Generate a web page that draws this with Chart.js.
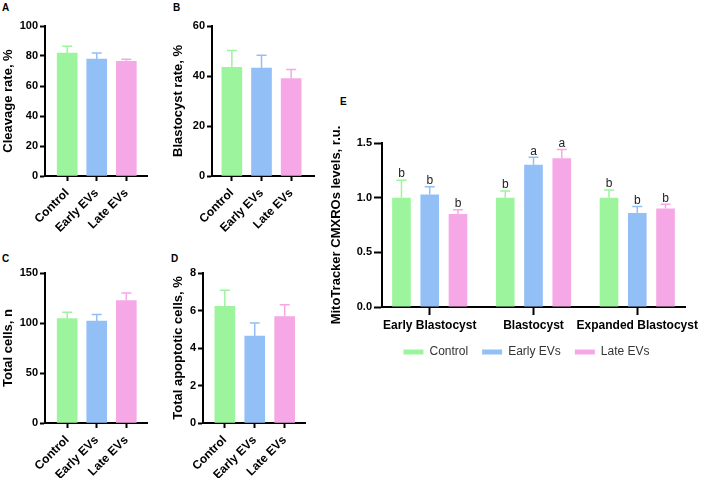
<!DOCTYPE html>
<html>
<head>
<meta charset="utf-8">
<script src="https://cdn.jsdelivr.net/npm/chart.js@4.4.1/dist/chart.umd.min.js"></script>
<style>
    body { margin: 0; background: #fff; width: 702px; height: 478px; position: relative; overflow: hidden; }
    canvas { position: absolute; }
    .lab { position: absolute; font: bold 10px/10px "Liberation Sans", Arial, sans-serif; color: #000; }
</style>
</head>
<body>
<div class="lab" style="left:2px;top:3px">A</div>
<div class="lab" style="left:173px;top:3px">B</div>
<div class="lab" style="left:2px;top:254px">C</div>
<div class="lab" style="left:171px;top:254px">D</div>
<div class="lab" style="left:340px;top:97px">E</div>

<canvas id="chartA" width="170" height="235" style="left:0;top:0"></canvas>
<canvas id="chartB" width="165" height="235" style="left:170px;top:0"></canvas>
<canvas id="chartC" width="170" height="243" style="left:0;top:235px"></canvas>
<canvas id="chartD" width="165" height="243" style="left:170px;top:235px"></canvas>
<canvas id="chartE" width="374" height="300" style="left:328px;top:90px"></canvas>

<script>
const FONT = '"Liberation Sans", Arial, sans-serif';

const groups = ['Control', 'Early EVs', 'Late EVs'];
const colors = ['#9cf59c', '#93bff7', '#f5a8e5'];

const cleavage = [82, 78, 76.5];
const cleavageSd = [4.5, 4, 1.3];
const blastocyst = [43.5, 43.2, 39];
const blastocystSd = [6.7, 5.1, 3.6];
const totalCells = [104.5, 102, 122.5];
const totalCellsSd = [6.2, 6.4, 7.5];
const apoptotic = [6.22, 4.64, 5.67];
const apoptoticSd = [0.86, 0.69, 0.64];

const stages = ['Early Blastocyst', 'Blastocyst', 'Expanded Blastocyst'];
const mitoControl = [1.0, 1.0, 1.0];
const mitoControlSd = [0.16, 0.06, 0.07];
const mitoEarly = [1.03, 1.30, 0.86];
const mitoEarlySd = [0.07, 0.07, 0.06];
const mitoLate = [0.85, 1.36, 0.90];
const mitoLateSd = [0.04, 0.08, 0.04];
const lettersControl = ['b', 'b', 'b'];
const lettersEarly = ['b', 'a', 'b'];
const lettersLate = ['b', 'a', 'b'];

// mean + SD caps, drawn upward only, plus the significance letters
const errorBars = {
    id: 'errorBars',
    afterDatasetsDraw(chart) {
        const ctx = chart.ctx;
        const y = chart.scales.y;
        chart.data.datasets.forEach((ds, di) => {
            chart.getDatasetMeta(di).data.forEach((bar, i) => {
                const top = y.getPixelForValue(ds.data[i].y + ds.sd[i]);
                const col = Array.isArray(ds.backgroundColor) ? ds.backgroundColor[i] : ds.backgroundColor;
                ctx.save();
                ctx.strokeStyle = col;
                ctx.lineWidth = 1.5;
                ctx.beginPath();
                ctx.moveTo(bar.x, bar.y);
                ctx.lineTo(bar.x, top);
                ctx.moveTo(bar.x - 5, top);
                ctx.lineTo(bar.x + 5, top);
                ctx.stroke();
                if (ds.letters) {
                    ctx.fillStyle = '#222';
                    ctx.font = '12px ' + FONT;
                    ctx.textAlign = 'center';
                    ctx.fillText(ds.letters[i], bar.x, top - 6);
                }
                ctx.restore();
            });
        });
    }
};

const legendShift = {
    id: 'legendShift',
    afterLayout(chart, args, opts) {
        if (chart.legend && opts.dx) {
            chart.legend.left += opts.dx;
            chart.legend.right += opts.dx;
        }
    }
};

function yAxis(max, step, title, width, tickLen, fmt) {
    return {
        min: 0, max: max, z: 1,
        border: { color: '#000', width: 2 },
        grid: { drawOnChartArea: false, tickLength: tickLen, tickColor: '#000', tickWidth: 2 },
        ticks: { stepSize: step, padding: 2, color: '#000', font: { family: FONT, size: 11, weight: 'bold' }, callback: fmt },
        title: { display: true, text: title, color: '#000', font: { family: FONT, size: 13, weight: 'bold' }, padding: { top: 0.5, bottom: 0 } },
        afterFit(s) { s.width = width; s.paddingTop = 0; s.paddingBottom = 0; }
    };
}

function xAxis(labels, min, max, height, rot, tickLen, pad) {
    return {
        type: 'linear', min: min, max: max, bounds: 'data', offset: false, z: 1,
        border: { color: '#000', width: 2 },
        grid: { offset: false, drawOnChartArea: false, tickLength: tickLen, tickColor: '#000', tickWidth: 2 },
        ticks: {
            autoSkip: false, minRotation: rot, maxRotation: rot, padding: pad, color: '#000',
            font: { family: FONT, size: 12, weight: 'bold' },
            callback: (v, i) => labels[i]
        },
        afterBuildTicks(s) { s.ticks = labels.map((l, i) => ({ value: i })); },
        afterFit(s) { s.height = height; s.paddingLeft = 0; s.paddingRight = 0; }
    };
}

function smallPanel(id, vals, sd, yMax, step, title, xMin, xMax, yW, xH, pad) {
    new Chart(document.getElementById(id), {
        type: 'bar',
        data: {
            datasets: [{
                data: vals.map((v, i) => ({ x: i, y: v })),
                sd: sd,
                backgroundColor: colors,
                borderWidth: 0,
                barThickness: 20
            }]
        },
        options: {
            responsive: false, animation: false, devicePixelRatio: 1,
            layout: { padding: pad },
            plugins: { legend: { display: false }, tooltip: { enabled: false } },
            scales: {
                x: xAxis(groups, xMin, xMax, xH, 45, 5, 5),
                y: yAxis(yMax, step, title, yW, 5)
            }
        },
        plugins: [errorBars]
    });
}

smallPanel('chartA', cleavage, cleavageSd, 100, 20, 'Cleavage rate, %', -0.75, 2.7, 45, 59, { left: 0, top: 26, right: 23, bottom: 0 });
smallPanel('chartB', blastocyst, blastocystSd, 60, 20, 'Blastocyst rate, %', -0.67, 2.77, 42, 59, { left: 0, top: 26, right: 21, bottom: 0 });
smallPanel('chartC', totalCells, totalCellsSd, 150, 50, 'Total cells, n', -0.75, 2.7, 45, 55, { left: 0, top: 38, right: 23, bottom: 0 });
smallPanel('chartD', apoptotic, apoptoticSd, 8, 2, 'Total apoptotic cells, %', -0.73, 2.68, 33, 55, { left: 0, top: 38, right: 30, bottom: 0 });

function mitoSet(label, vals, sd, letters, color) {
    return {
        label: label,
        data: vals.map((v, i) => ({ x: i, y: v })),
        sd: sd,
        letters: letters,
        backgroundColor: color,
        borderWidth: 0,
        categoryPercentage: 0.817,
        barPercentage: 0.66
    };
}

new Chart(document.getElementById('chartE'), {
    type: 'bar',
    data: {
        datasets: [
            mitoSet(groups[0], mitoControl, mitoControlSd, lettersControl, colors[0]),
            mitoSet(groups[1], mitoEarly, mitoEarlySd, lettersEarly, colors[1]),
            mitoSet(groups[2], mitoLate, mitoLateSd, lettersLate, colors[2])
        ]
    },
    options: {
        responsive: false, animation: false, devicePixelRatio: 1,
        layout: { padding: { left: 0, top: 53, right: 17, bottom: 22 } },
        plugins: {
            tooltip: { enabled: false },
            legend: {
                position: 'bottom',
                labels: { boxWidth: 20, boxHeight: 5, padding: 14, color: '#333', font: { family: FONT, size: 12 } }
            },
            legendShift: { dx: 20 }
        },
        scales: {
            x: xAxis(stages, -0.46, 2.46, 25, 0, 8, 3),
            y: yAxis(1.5, 0.5, 'MitoTracker CMXROs levels, r.u.', 54, 8, v => v.toFixed(1))
        }
    },
    plugins: [errorBars, legendShift]
});
</script>
</body>
</html>
